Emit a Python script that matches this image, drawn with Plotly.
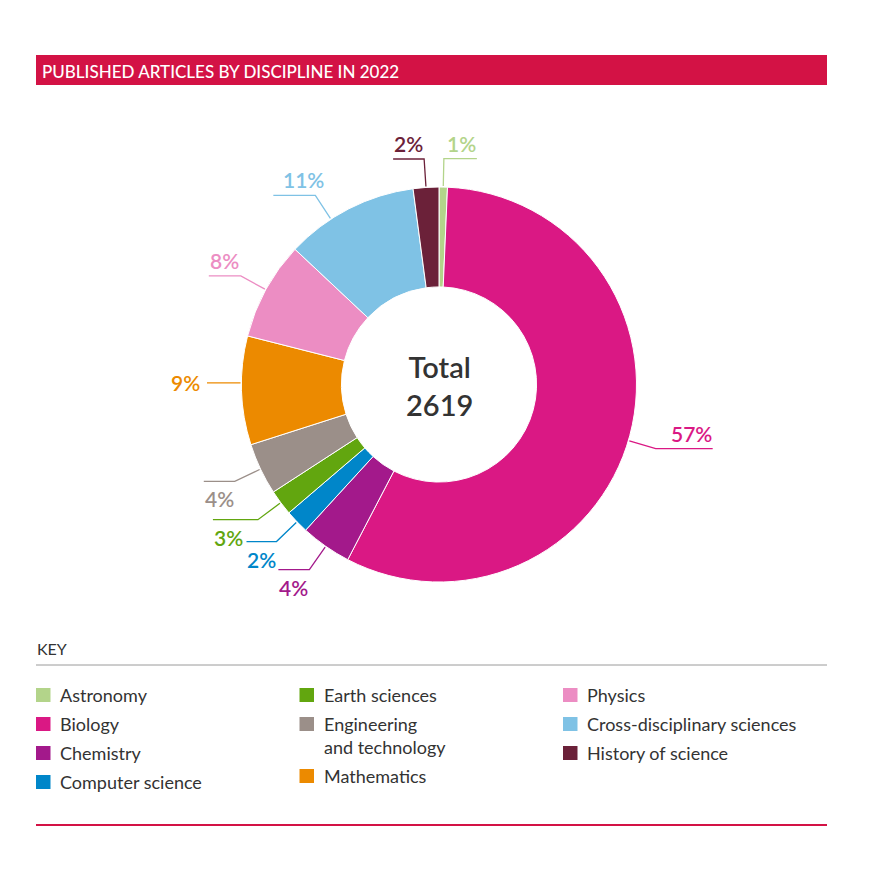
import math
import plotly.graph_objects as go

# ---------------- data ----------------
disciplines = ["Astronomy", "Biology", "Chemistry", "Computer science", "Earth sciences",
               "Engineering and technology", "Mathematics", "Physics",
               "Cross-disciplinary sciences", "History of science"]
articles = [18, 1494, 109, 51, 55, 111, 233, 211, 286, 55]
pct_labels = ["1%", "57%", "4%", "2%", "3%", "4%", "9%", "8%", "11%", "2%"]
total_label = "2619"
title_text = "PUBLISHED ARTICLES BY DISCIPLINE IN 2022"
legend_columns = [
    ["Astronomy", "Biology", "Chemistry", "Computer science"],
    ["Earth sciences", "Engineering<br>and technology", "Mathematics"],
    ["Physics", "Cross-disciplinary sciences", "History of science"],
]

# ---------------- style ----------------
colors = ["#B3D48A", "#DA1884", "#A3198B", "#0086C9", "#62A60F",
          "#9B8F89", "#EC8A00", "#EC8DC3", "#7FC2E5", "#6B2139"]
RED = "#D31245"
TXT = "#333333"
FONT = "Lato"
OFF = 8          # page body margin
W = H = 866
CX, CY, R = 439.0, 384.5, 197.5
HOLE = 0.494
ELBOW_R = 226.0
hlen = [33, 57, 31, 30, 45, 31, 0, 32, 42, 31]
leader_dang = [0, 1.5, 0, 0, 0, 0, 2.2, 0, -6, 0]   # leader angle tweak (deg)
label_dx = [0, 0, 0, 0, 0, 0, 0, 0, 9, 0]            # label shift (px)


def px(x):
    return (x - OFF) / W


def py(y):
    return 1 - (y - OFF) / H


def pt(ang, r):
    a = math.radians(ang)
    return CX + r * math.sin(a), CY - r * math.cos(a)


fig = go.Figure()
fig.add_trace(go.Pie(
    labels=disciplines, values=articles, sort=False, direction="clockwise",
    rotation=0, hole=HOLE, textinfo="none", hoverinfo="label+value+percent",
    marker=dict(colors=colors, line=dict(color="white", width=1)),
    domain=dict(x=[px(CX - R), px(CX + R)], y=[py(CY + R), py(CY - R)]),
    showlegend=False,
))

shapes = []
annotations = []

# title bar
shapes.append(dict(type="rect", xref="paper", yref="paper", x0=px(36), x1=px(827),
                   y0=py(85), y1=py(55), fillcolor=RED, line=dict(width=0), layer="below"))
annotations.append(dict(text=title_text, xref="paper", yref="paper", x=px(40), y=py(71),
                        xanchor="left", yanchor="middle", showarrow=False,
                        font=dict(family=FONT, size=17, color="white", weight=500)))

# centre text
annotations.append(dict(text="Total<br>" + total_label, xref="paper", yref="paper",
                        x=px(CX), y=py(386), xanchor="center", yanchor="middle",
                        showarrow=False, align="center",
                        font=dict(family=FONT, size=29, color=TXT, weight=600)))

# leader lines & labels
tot = sum(articles)
cum = 0
for i, v in enumerate(articles):
    a0 = cum / tot * 360
    cum += v
    a1 = cum / tot * 360
    mid = (a0 + a1) / 2 + leader_dang[i]
    sx, sy = pt(mid, R + 1)
    ex, ey = pt(mid, ELBOW_R if hlen[i] else ELBOW_R + 6)
    if hlen[i] == 0:
        ey = sy
    side = 1 if math.sin(math.radians(mid)) > 0 else -1
    lx = ex + side * hlen[i]
    path = f"M {px(sx)},{py(sy)} L {px(ex)},{py(ey)} L {px(lx)},{py(ey)}"
    shapes.append(dict(type="path", xref="paper", yref="paper", path=path,
                       line=dict(color=colors[i], width=1.3)))
    f = dict(family=FONT, size=21, color=colors[i], weight=600)
    tx = lx + label_dx[i]
    if hlen[i] == 0:
        annotations.append(dict(text=pct_labels[i], xref="paper", yref="paper",
                                x=px(ex - 5), y=py(ey), xanchor="right", yanchor="middle",
                                showarrow=False, font=f))
    elif side > 0:
        annotations.append(dict(text=pct_labels[i], xref="paper", yref="paper",
                                x=px(tx + 1), y=py(ey - 1), xanchor="right", yanchor="bottom",
                                showarrow=False, font=f))
    elif ey < CY:
        annotations.append(dict(text=pct_labels[i], xref="paper", yref="paper",
                                x=px(tx - 1), y=py(ey - 1), xanchor="left", yanchor="bottom",
                                showarrow=False, font=f))
    else:
        annotations.append(dict(text=pct_labels[i], xref="paper", yref="paper",
                                x=px(tx - 1), y=py(ey + 3), xanchor="left", yanchor="top",
                                showarrow=False, font=f))

# key
annotations.append(dict(text="KEY", xref="paper", yref="paper", x=px(35), y=py(648),
                        xanchor="left", yanchor="middle", showarrow=False,
                        font=dict(family=FONT, size=16, color=TXT)))
shapes.append(dict(type="line", xref="paper", yref="paper", x0=px(36), x1=px(827),
                   y0=py(665), y1=py(665), line=dict(color="#9A9A9A", width=1)))

col_x = [36, 299.5, 563]
row_y = {0: [695, 724, 753, 782], 1: [695, 724, 776], 2: [695, 724, 753]}
k = 0
for c, items in enumerate(legend_columns):
    for r_i, name in enumerate(items):
        yc = row_y[c][r_i]
        shapes.append(dict(type="rect", xref="paper", yref="paper",
                           x0=px(col_x[c]), x1=px(col_x[c] + 14.5),
                           y0=py(yc + 7), y1=py(yc - 7),
                           fillcolor=colors[k], line=dict(width=0)))
        annotations.append(dict(text=name, xref="paper", yref="paper",
                                x=px(col_x[c] + 22), y=py(yc),
                                xanchor="left", yanchor="top" if "<br>" in name else "middle",
                                yshift=13 if "<br>" in name else 0,
                                showarrow=False, align="left",
                                font=dict(family=FONT, size=18, color=TXT)))
        k += 1

# bottom rule
shapes.append(dict(type="line", xref="paper", yref="paper", x0=px(36), x1=px(827),
                   y0=py(825), y1=py(825), line=dict(color=RED, width=2)))

fig.update_layout(width=W, height=H, margin=dict(l=0, r=0, t=0, b=0),
                  paper_bgcolor="white", plot_bgcolor="white",
                  shapes=shapes, annotations=annotations,
                  font=dict(family=FONT))
fig.write_html("out.html")
